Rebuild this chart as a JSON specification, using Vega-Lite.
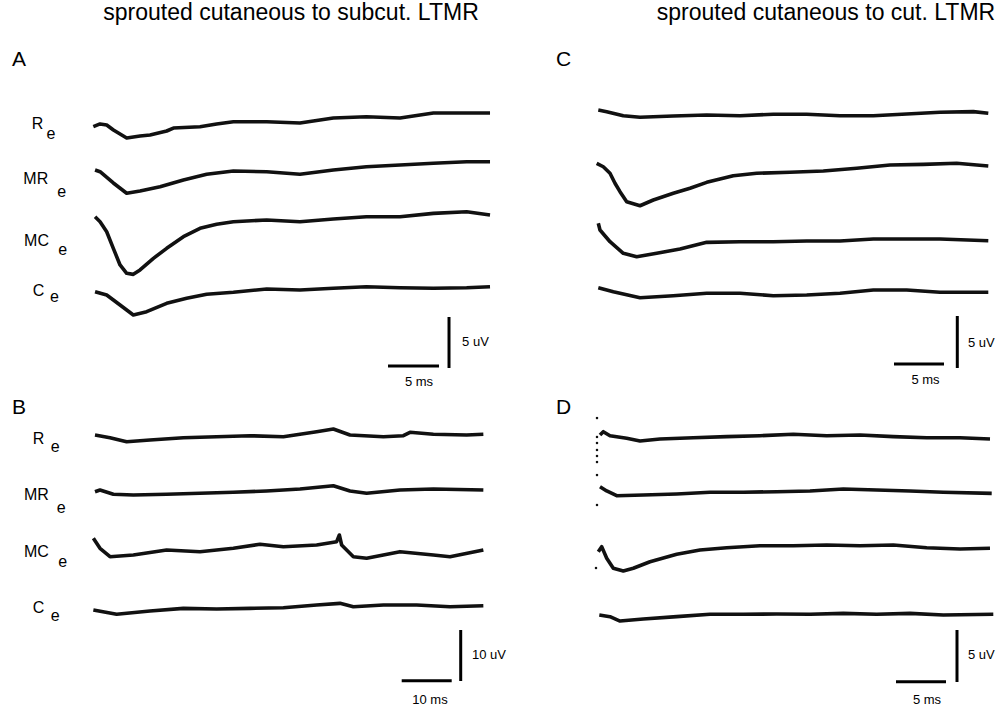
{
"$schema":"https://vega.github.io/schema/vega-lite/v6.json",
"background":"white",
"padding":0,
"spacing":0,
"config":{"view":{"stroke":null},"axis":{"disable":true},"font":"Liberation Sans","line":{"strokeWidth":3.6,"color":"#111","strokeJoin":"round"}},
"datasets":{"traces":[
{"panel":"A","trace":"R","t":0.03,"v":-0.07},{"panel":"A","trace":"R","t":0.69,"v":0.2},{"panel":"A","trace":"R","t":1.34,"v":0.1},{"panel":"A","trace":"R","t":2.0,"v":-0.39},{"panel":"A","trace":"R","t":3.3,"v":-1.18},{"panel":"A","trace":"R","t":4.61,"v":-0.98},{"panel":"A","trace":"R","t":5.59,"v":-0.88},{"panel":"A","trace":"R","t":7.22,"v":-0.49},{"panel":"A","trace":"R","t":7.88,"v":-0.2},{"panel":"A","trace":"R","t":10.49,"v":-0.07},{"panel":"A","trace":"R","t":12.12,"v":0.2},{"panel":"A","trace":"R","t":13.76,"v":0.42},{"panel":"A","trace":"R","t":17.03,"v":0.42},{"panel":"A","trace":"R","t":20.29,"v":0.29},{"panel":"A","trace":"R","t":23.56,"v":0.78},{"panel":"A","trace":"R","t":26.8,"v":0.91},{"panel":"A","trace":"R","t":30.1,"v":0.78},{"panel":"A","trace":"R","t":33.37,"v":1.27},{"panel":"A","trace":"R","t":36.63,"v":1.27},{"panel":"A","trace":"R","t":38.92,"v":1.27},
{"panel":"A","trace":"MR","t":0.2,"v":0},{"panel":"A","trace":"MR","t":0.69,"v":-0.17},{"panel":"A","trace":"MR","t":1.99,"v":-1.27},{"panel":"A","trace":"MR","t":3.3,"v":-2.28},{"panel":"A","trace":"MR","t":4.61,"v":-2.06},{"panel":"A","trace":"MR","t":6.57,"v":-1.64},{"panel":"A","trace":"MR","t":8.86,"v":-0.98},{"panel":"A","trace":"MR","t":11.14,"v":-0.42},{"panel":"A","trace":"MR","t":13.76,"v":-0.1},{"panel":"A","trace":"MR","t":17.03,"v":-0.17},{"panel":"A","trace":"MR","t":20.29,"v":-0.42},{"panel":"A","trace":"MR","t":23.56,"v":0},{"panel":"A","trace":"MR","t":26.8,"v":0.32},{"panel":"A","trace":"MR","t":30.1,"v":0.49},{"panel":"A","trace":"MR","t":33.37,"v":0.66},{"panel":"A","trace":"MR","t":36.63,"v":0.81},{"panel":"A","trace":"MR","t":38.92,"v":0.81},
{"panel":"A","trace":"MC","t":0.2,"v":-0.07},{"panel":"A","trace":"MC","t":0.69,"v":-0.56},{"panel":"A","trace":"MC","t":1.34,"v":-1.54},{"panel":"A","trace":"MC","t":1.99,"v":-3.17},{"panel":"A","trace":"MC","t":2.65,"v":-4.8},{"panel":"A","trace":"MC","t":3.3,"v":-5.62},{"panel":"A","trace":"MC","t":3.95,"v":-5.72},{"panel":"A","trace":"MC","t":4.61,"v":-5.29},{"panel":"A","trace":"MC","t":5.92,"v":-4.15},{"panel":"A","trace":"MC","t":7.22,"v":-3.17},{"panel":"A","trace":"MC","t":8.86,"v":-2.03},{"panel":"A","trace":"MC","t":10.49,"v":-1.21},{"panel":"A","trace":"MC","t":12.12,"v":-0.81},{"panel":"A","trace":"MC","t":13.76,"v":-0.56},{"panel":"A","trace":"MC","t":17.03,"v":-0.39},{"panel":"A","trace":"MC","t":20.29,"v":-0.56},{"panel":"A","trace":"MC","t":23.56,"v":-0.29},{"panel":"A","trace":"MC","t":26.8,"v":-0.07},{"panel":"A","trace":"MC","t":30.1,"v":-0.07},{"panel":"A","trace":"MC","t":33.37,"v":0.26},{"panel":"A","trace":"MC","t":36.63,"v":0.42},{"panel":"A","trace":"MC","t":38.92,"v":0.1},
{"panel":"A","trace":"C","t":0.2,"v":-0.07},{"panel":"A","trace":"C","t":1.34,"v":-0.39},{"panel":"A","trace":"C","t":2.65,"v":-1.37},{"panel":"A","trace":"C","t":3.95,"v":-2.35},{"panel":"A","trace":"C","t":5.26,"v":-2.03},{"panel":"A","trace":"C","t":7.22,"v":-1.21},{"panel":"A","trace":"C","t":9.18,"v":-0.72},{"panel":"A","trace":"C","t":11.14,"v":-0.32},{"panel":"A","trace":"C","t":13.76,"v":-0.13},{"panel":"A","trace":"C","t":17.03,"v":0.2},{"panel":"A","trace":"C","t":20.29,"v":0.1},{"panel":"A","trace":"C","t":23.56,"v":0.26},{"panel":"A","trace":"C","t":26.8,"v":0.42},{"panel":"A","trace":"C","t":30.1,"v":0.32},{"panel":"A","trace":"C","t":33.37,"v":0.26},{"panel":"A","trace":"C","t":36.63,"v":0.32},{"panel":"A","trace":"C","t":38.92,"v":0.42},
{"panel":"C","trace":"R","t":0.03,"v":0},{"panel":"C","trace":"R","t":0.87,"v":-0.16},{"panel":"C","trace":"R","t":2.53,"v":-0.55},{"panel":"C","trace":"R","t":4.2,"v":-0.7},{"panel":"C","trace":"R","t":7.53,"v":-0.58},{"panel":"C","trace":"R","t":10.87,"v":-0.48},{"panel":"C","trace":"R","t":14.2,"v":-0.55},{"panel":"C","trace":"R","t":17.53,"v":-0.41},{"panel":"C","trace":"R","t":20.87,"v":-0.41},{"panel":"C","trace":"R","t":24.2,"v":-0.55},{"panel":"C","trace":"R","t":27.53,"v":-0.55},{"panel":"C","trace":"R","t":30.87,"v":-0.38},{"panel":"C","trace":"R","t":34.2,"v":-0.22},{"panel":"C","trace":"R","t":37.53,"v":-0.16},{"panel":"C","trace":"R","t":39.03,"v":-0.32},
{"panel":"C","trace":"MR","t":-0.13,"v":-0.03},{"panel":"C","trace":"MR","t":0.53,"v":-0.36},{"panel":"C","trace":"MR","t":1.2,"v":-0.99},{"panel":"C","trace":"MR","t":1.7,"v":-1.95},{"panel":"C","trace":"MR","t":2.2,"v":-2.76},{"panel":"C","trace":"MR","t":2.87,"v":-3.72},{"panel":"C","trace":"MR","t":4.2,"v":-4.11},{"panel":"C","trace":"MR","t":5.53,"v":-3.56},{"panel":"C","trace":"MR","t":7.53,"v":-2.91},{"panel":"C","trace":"MR","t":9.2,"v":-2.43},{"panel":"C","trace":"MR","t":10.87,"v":-1.86},{"panel":"C","trace":"MR","t":13.53,"v":-1.22},{"panel":"C","trace":"MR","t":15.87,"v":-0.99},{"panel":"C","trace":"MR","t":19.2,"v":-0.89},{"panel":"C","trace":"MR","t":22.53,"v":-0.77},{"panel":"C","trace":"MR","t":25.87,"v":-0.51},{"panel":"C","trace":"MR","t":29.2,"v":-0.19},{"panel":"C","trace":"MR","t":32.53,"v":-0.13},{"panel":"C","trace":"MR","t":35.87,"v":-0.03},{"panel":"C","trace":"MR","t":39.03,"v":-0.29},
{"panel":"C","trace":"MC","t":0.03,"v":-0.03},{"panel":"C","trace":"MC","t":0.2,"v":-0.67},{"panel":"C","trace":"MC","t":1.2,"v":-1.8},{"panel":"C","trace":"MC","t":2.53,"v":-2.91},{"panel":"C","trace":"MC","t":3.87,"v":-3.24},{"panel":"C","trace":"MC","t":5.87,"v":-2.91},{"panel":"C","trace":"MC","t":8.2,"v":-2.5},{"panel":"C","trace":"MC","t":10.87,"v":-1.86},{"panel":"C","trace":"MC","t":14.2,"v":-1.8},{"panel":"C","trace":"MC","t":17.53,"v":-1.8},{"panel":"C","trace":"MC","t":20.87,"v":-1.73},{"panel":"C","trace":"MC","t":24.2,"v":-1.73},{"panel":"C","trace":"MC","t":27.53,"v":-1.54},{"panel":"C","trace":"MC","t":30.87,"v":-1.54},{"panel":"C","trace":"MC","t":34.2,"v":-1.54},{"panel":"C","trace":"MC","t":39.03,"v":-1.7},
{"panel":"C","trace":"C","t":0.03,"v":0.03},{"panel":"C","trace":"C","t":1.53,"v":-0.36},{"panel":"C","trace":"C","t":4.2,"v":-0.93},{"panel":"C","trace":"C","t":7.53,"v":-0.74},{"panel":"C","trace":"C","t":10.87,"v":-0.51},{"panel":"C","trace":"C","t":14.2,"v":-0.51},{"panel":"C","trace":"C","t":17.53,"v":-0.74},{"panel":"C","trace":"C","t":20.87,"v":-0.67},{"panel":"C","trace":"C","t":24.2,"v":-0.51},{"panel":"C","trace":"C","t":27.53,"v":-0.19},{"panel":"C","trace":"C","t":30.87,"v":-0.19},{"panel":"C","trace":"C","t":34.2,"v":-0.41},{"panel":"C","trace":"C","t":39.03,"v":-0.41},
{"panel":"B","trace":"R","t":0.4,"v":0},{"panel":"B","trace":"R","t":3.4,"v":-0.53},{"panel":"B","trace":"R","t":6.73,"v":-1.31},{"panel":"B","trace":"R","t":11.4,"v":-0.98},{"panel":"B","trace":"R","t":18.07,"v":-0.53},{"panel":"B","trace":"R","t":24.73,"v":-0.33},{"panel":"B","trace":"R","t":31.4,"v":-0.14},{"panel":"B","trace":"R","t":38.07,"v":-0.33},{"panel":"B","trace":"R","t":44.73,"v":0.65},{"panel":"B","trace":"R","t":48.07,"v":1.18},{"panel":"B","trace":"R","t":51.4,"v":0},{"panel":"B","trace":"R","t":58.07,"v":-0.33},{"panel":"B","trace":"R","t":62.07,"v":-0.14},{"panel":"B","trace":"R","t":63.4,"v":0.53},{"panel":"B","trace":"R","t":68.07,"v":0.14},{"panel":"B","trace":"R","t":74.73,"v":0},{"panel":"B","trace":"R","t":78.07,"v":0.14},
{"panel":"B","trace":"MR","t":0.4,"v":-0.14},{"panel":"B","trace":"MR","t":1.4,"v":0.2},{"panel":"B","trace":"MR","t":4.07,"v":-0.65},{"panel":"B","trace":"MR","t":8.07,"v":-0.78},{"panel":"B","trace":"MR","t":14.73,"v":-0.65},{"panel":"B","trace":"MR","t":21.4,"v":-0.45},{"panel":"B","trace":"MR","t":28.07,"v":-0.25},{"panel":"B","trace":"MR","t":34.73,"v":0},{"panel":"B","trace":"MR","t":41.4,"v":0.39},{"panel":"B","trace":"MR","t":48.07,"v":1.04},{"panel":"B","trace":"MR","t":51.4,"v":0},{"panel":"B","trace":"MR","t":54.73,"v":-0.45},{"panel":"B","trace":"MR","t":61.4,"v":0.2},{"panel":"B","trace":"MR","t":68.07,"v":0.39},{"panel":"B","trace":"MR","t":78.07,"v":0.2},
{"panel":"B","trace":"MC","t":0.07,"v":2.29},{"panel":"B","trace":"MC","t":1.4,"v":0.33},{"panel":"B","trace":"MC","t":3.4,"v":-1.31},{"panel":"B","trace":"MC","t":8.07,"v":-0.98},{"panel":"B","trace":"MC","t":14.73,"v":0},{"panel":"B","trace":"MC","t":21.4,"v":-0.33},{"panel":"B","trace":"MC","t":28.07,"v":0.33},{"panel":"B","trace":"MC","t":33.4,"v":1.12},{"panel":"B","trace":"MC","t":38.07,"v":0.65},{"panel":"B","trace":"MC","t":44.73,"v":0.98},{"panel":"B","trace":"MC","t":48.73,"v":1.63},{"panel":"B","trace":"MC","t":49.27,"v":2.94},{"panel":"B","trace":"MC","t":49.73,"v":0.98},{"panel":"B","trace":"MC","t":52.07,"v":-1.31},{"panel":"B","trace":"MC","t":54.73,"v":-1.63},{"panel":"B","trace":"MC","t":61.4,"v":-0.33},{"panel":"B","trace":"MC","t":68.07,"v":-0.98},{"panel":"B","trace":"MC","t":71.4,"v":-1.31},{"panel":"B","trace":"MC","t":78.07,"v":0},
{"panel":"B","trace":"C","t":0.07,"v":0},{"panel":"B","trace":"C","t":4.73,"v":-0.84},{"panel":"B","trace":"C","t":11.4,"v":-0.2},{"panel":"B","trace":"C","t":18.07,"v":0.33},{"panel":"B","trace":"C","t":24.73,"v":0.2},{"panel":"B","trace":"C","t":31.4,"v":0.33},{"panel":"B","trace":"C","t":38.07,"v":0.45},{"panel":"B","trace":"C","t":44.73,"v":0.98},{"panel":"B","trace":"C","t":49.4,"v":1.31},{"panel":"B","trace":"C","t":52.07,"v":0.65},{"panel":"B","trace":"C","t":58.07,"v":0.98},{"panel":"B","trace":"C","t":64.73,"v":0.98},{"panel":"B","trace":"C","t":71.4,"v":0.65},{"panel":"B","trace":"C","t":78.07,"v":0.84},
{"panel":"D","trace":"R","t":0.2,"v":0},{"panel":"D","trace":"R","t":0.53,"v":0.32},{"panel":"D","trace":"R","t":1.2,"v":-0.07},{"panel":"D","trace":"R","t":2.87,"v":-0.32},{"panel":"D","trace":"R","t":4.2,"v":-0.58},{"panel":"D","trace":"R","t":6.2,"v":-0.38},{"panel":"D","trace":"R","t":9.53,"v":-0.26},{"panel":"D","trace":"R","t":12.87,"v":-0.16},{"panel":"D","trace":"R","t":16.2,"v":-0.07},{"panel":"D","trace":"R","t":19.53,"v":0.07},{"panel":"D","trace":"R","t":22.87,"v":-0.07},{"panel":"D","trace":"R","t":26.2,"v":0},{"panel":"D","trace":"R","t":29.53,"v":-0.16},{"panel":"D","trace":"R","t":32.87,"v":-0.26},{"panel":"D","trace":"R","t":36.2,"v":-0.26},{"panel":"D","trace":"R","t":39.2,"v":-0.38},
{"panel":"D","trace":"MR","t":0.2,"v":0.03},{"panel":"D","trace":"MR","t":0.87,"v":-0.38},{"panel":"D","trace":"MR","t":1.87,"v":-0.84},{"panel":"D","trace":"MR","t":4.53,"v":-0.77},{"panel":"D","trace":"MR","t":7.87,"v":-0.67},{"panel":"D","trace":"MR","t":11.2,"v":-0.51},{"panel":"D","trace":"MR","t":14.53,"v":-0.51},{"panel":"D","trace":"MR","t":17.87,"v":-0.45},{"panel":"D","trace":"MR","t":21.2,"v":-0.38},{"panel":"D","trace":"MR","t":24.53,"v":-0.19},{"panel":"D","trace":"MR","t":27.87,"v":-0.29},{"panel":"D","trace":"MR","t":31.2,"v":-0.38},{"panel":"D","trace":"MR","t":34.53,"v":-0.51},{"panel":"D","trace":"MR","t":39.37,"v":-0.61},
{"panel":"D","trace":"MC","t":0.03,"v":-0.36},{"panel":"D","trace":"MC","t":0.37,"v":0.13},{"panel":"D","trace":"MC","t":0.87,"v":-0.99},{"panel":"D","trace":"MC","t":1.53,"v":-1.95},{"panel":"D","trace":"MC","t":2.53,"v":-2.21},{"panel":"D","trace":"MC","t":3.53,"v":-1.95},{"panel":"D","trace":"MC","t":5.2,"v":-1.32},{"panel":"D","trace":"MC","t":7.87,"v":-0.61},{"panel":"D","trace":"MC","t":10.2,"v":-0.19},{"panel":"D","trace":"MC","t":12.87,"v":0.03},{"panel":"D","trace":"MC","t":16.2,"v":0.22},{"panel":"D","trace":"MC","t":19.53,"v":0.22},{"panel":"D","trace":"MC","t":22.87,"v":0.29},{"panel":"D","trace":"MC","t":26.2,"v":0.22},{"panel":"D","trace":"MC","t":29.53,"v":0.29},{"panel":"D","trace":"MC","t":32.87,"v":0.03},{"panel":"D","trace":"MC","t":36.2,"v":-0.1},{"panel":"D","trace":"MC","t":39.2,"v":-0.03},
{"panel":"D","trace":"C","t":0.13,"v":0},{"panel":"D","trace":"C","t":1.2,"v":-0.16},{"panel":"D","trace":"C","t":2.2,"v":-0.58},{"panel":"D","trace":"C","t":4.53,"v":-0.38},{"panel":"D","trace":"C","t":7.87,"v":-0.16},{"panel":"D","trace":"C","t":11.2,"v":0.07},{"panel":"D","trace":"C","t":14.53,"v":0.07},{"panel":"D","trace":"C","t":17.87,"v":0.1},{"panel":"D","trace":"C","t":21.2,"v":0.07},{"panel":"D","trace":"C","t":24.53,"v":0.16},{"panel":"D","trace":"C","t":27.87,"v":0.07},{"panel":"D","trace":"C","t":31.2,"v":0.16},{"panel":"D","trace":"C","t":34.53,"v":0},{"panel":"D","trace":"C","t":39.53,"v":0.07}
],
"artifact":[
{"panel":"D","t":-0.1,"v":1.63},{"panel":"D","t":-0.1,"v":-0.19},{"panel":"D","t":-0.1,"v":-0.77},{"panel":"D","t":-0.1,"v":-1.44},{"panel":"D","t":-0.1,"v":-2.02},{"panel":"D","t":-0.1,"v":-2.6},{"panel":"D","t":-0.1,"v":-3.85},{"panel":"D","t":-0.1,"v":-6.73},{"panel":"D","t":-0.2,"v":-12.79}
]},
"vconcat":[
{"hconcat":[
{"width":530,"height":395,"resolve":{"scale":{"y":"independent"}},"layer":[
 {"layer":[
  {"data":{"name":"traces"},"transform":[{"filter":"datum.panel==='A'&&datum.trace==='R'"}],"mark":{"type":"line"},"encoding":{"x":{"field":"t","type":"quantitative","scale":{"domain":[-9.12,42.84],"nice":false,"zero":false},"axis":null},"y":{"field":"v","type":"quantitative","scale":{"domain":[-26.37,12.35],"nice":false,"zero":false},"axis":null}}},
  {"data":{"values":[{}]},"mark":{"type":"text","text":"sprouted cutaneous to subcut. LTMR","fontSize":23,"align":"center","baseline":"alphabetic","color":"black"},"encoding":{"x":{"datum":19.41,"type":"quantitative"},"y":{"datum":10.39,"type":"quantitative"}}},
  {"data":{"values":[{}]},"mark":{"type":"text","text":"A","fontSize":21,"align":"left","baseline":"middle","color":"black"},"encoding":{"x":{"datum":-7.94,"type":"quantitative"},"y":{"datum":6.47,"type":"quantitative"}}},
  {"data":{"values":[{}]},"mark":{"type":"text","text":"R","fontSize":16,"align":"left","baseline":"middle","color":"black"},"encoding":{"x":{"datum":-6.01,"type":"quantitative"},"y":{"datum":0.2,"type":"quantitative"}}},
  {"data":{"values":[{}]},"mark":{"type":"text","text":"e","fontSize":16,"align":"left","baseline":"middle","color":"black"},"encoding":{"x":{"datum":-4.55,"type":"quantitative"},"y":{"datum":-0.83,"type":"quantitative"}}}
 ]},
 {"layer":[
  {"data":{"name":"traces"},"transform":[{"filter":"datum.panel==='A'&&datum.trace==='MR'"}],"mark":{"type":"line"},"encoding":{"x":{"field":"t","type":"quantitative","scale":{"domain":[-9.12,42.84],"nice":false,"zero":false},"axis":null},"y":{"field":"v","type":"quantitative","scale":{"domain":[-22.06,16.67],"nice":false,"zero":false},"axis":null}}},
  {"data":{"values":[{}]},"mark":{"type":"text","text":"MR","fontSize":16,"align":"left","baseline":"middle","color":"black"},"encoding":{"x":{"datum":-6.83,"type":"quantitative"},"y":{"datum":-0.93,"type":"quantitative"}}},
  {"data":{"values":[{}]},"mark":{"type":"text","text":"e","fontSize":16,"align":"left","baseline":"middle","color":"black"},"encoding":{"x":{"datum":-3.5,"type":"quantitative"},"y":{"datum":-2.11,"type":"quantitative"}}}
 ]},
 {"layer":[
  {"data":{"name":"traces"},"transform":[{"filter":"datum.panel==='A'&&datum.trace==='MC'"}],"mark":{"type":"line"},"encoding":{"x":{"field":"t","type":"quantitative","scale":{"domain":[-9.12,42.84],"nice":false,"zero":false},"axis":null},"y":{"field":"v","type":"quantitative","scale":{"domain":[-17.55,21.18],"nice":false,"zero":false},"axis":null}}},
  {"data":{"values":[{}]},"mark":{"type":"text","text":"MC","fontSize":16,"align":"left","baseline":"middle","color":"black"},"encoding":{"x":{"datum":-6.76,"type":"quantitative"},"y":{"datum":-2.45,"type":"quantitative"}}},
  {"data":{"values":[{}]},"mark":{"type":"text","text":"e","fontSize":16,"align":"left","baseline":"middle","color":"black"},"encoding":{"x":{"datum":-3.4,"type":"quantitative"},"y":{"datum":-3.33,"type":"quantitative"}}}
 ]},
 {"layer":[
  {"data":{"name":"traces"},"transform":[{"filter":"datum.panel==='A'&&datum.trace==='C'"}],"mark":{"type":"line"},"encoding":{"x":{"field":"t","type":"quantitative","scale":{"domain":[-9.12,42.84],"nice":false,"zero":false},"axis":null},"y":{"field":"v","type":"quantitative","scale":{"domain":[-10.2,28.53],"nice":false,"zero":false},"axis":null}}},
  {"data":{"values":[{}]},"mark":{"type":"text","text":"C","fontSize":16,"align":"left","baseline":"middle","color":"black"},"encoding":{"x":{"datum":-5.91,"type":"quantitative"},"y":{"datum":0,"type":"quantitative"}}},
  {"data":{"values":[{}]},"mark":{"type":"text","text":"e","fontSize":16,"align":"left","baseline":"middle","color":"black"},"encoding":{"x":{"datum":-4.22,"type":"quantitative"},"y":{"datum":-0.59,"type":"quantitative"}}},
  {"data":{"values":[{}]},"mark":{"type":"rule","color":"black","strokeWidth":3},"encoding":{"x":{"datum":34.9,"type":"quantitative"},"y":{"datum":-2.55,"type":"quantitative"},"y2":{"datum":-7.55}}},
  {"data":{"values":[{}]},"mark":{"type":"rule","color":"black","strokeWidth":3},"encoding":{"x":{"datum":28.92,"type":"quantitative"},"x2":{"datum":33.92},"y":{"datum":-7.35,"type":"quantitative"}}},
  {"data":{"values":[{}]},"mark":{"type":"text","text":"5 uV","fontSize":13,"align":"left","baseline":"middle","color":"black"},"encoding":{"x":{"datum":36.18,"type":"quantitative"},"y":{"datum":-5.0,"type":"quantitative"}}},
  {"data":{"values":[{}]},"mark":{"type":"text","text":"5 ms","fontSize":13,"align":"center","baseline":"middle","color":"black"},"encoding":{"x":{"datum":31.96,"type":"quantitative"},"y":{"datum":-8.92,"type":"quantitative"}}}
 ]}
]},
{"width":474,"height":395,"resolve":{"scale":{"y":"independent"}},"layer":[
 {"layer":[
  {"data":{"name":"traces"},"transform":[{"filter":"datum.panel==='C'&&datum.trace==='R'"}],"mark":{"type":"line"},"encoding":{"x":{"field":"t","type":"quantitative","scale":{"domain":[-6.8,40.6],"nice":false,"zero":false},"axis":null},"y":{"field":"v","type":"quantitative","scale":{"domain":[-27.404,10.577],"nice":false,"zero":false},"axis":null}}},
  {"data":{"values":[{}]},"mark":{"type":"text","text":"sprouted cutaneous to cut. LTMR","fontSize":23,"align":"center","baseline":"alphabetic","color":"black"},"encoding":{"x":{"datum":22.8,"type":"quantitative"},"y":{"datum":8.65,"type":"quantitative"}}},
  {"data":{"values":[{}]},"mark":{"type":"text","text":"C","fontSize":21,"align":"left","baseline":"middle","color":"black"},"encoding":{"x":{"datum":-4.2,"type":"quantitative"},"y":{"datum":4.81,"type":"quantitative"}}}
 ]},
 {"layer":[
  {"data":{"name":"traces"},"transform":[{"filter":"datum.panel==='C'&&datum.trace==='MR'"}],"mark":{"type":"line"},"encoding":{"x":{"field":"t","type":"quantitative","scale":{"domain":[-6.8,40.6],"nice":false,"zero":false},"axis":null},"y":{"field":"v","type":"quantitative","scale":{"domain":[-22.308,15.673],"nice":false,"zero":false},"axis":null}}}
 ]},
 {"layer":[
  {"data":{"name":"traces"},"transform":[{"filter":"datum.panel==='C'&&datum.trace==='MC'"}],"mark":{"type":"line"},"encoding":{"x":{"field":"t","type":"quantitative","scale":{"domain":[-6.8,40.6],"nice":false,"zero":false},"axis":null},"y":{"field":"v","type":"quantitative","scale":{"domain":[-16.538,21.442],"nice":false,"zero":false},"axis":null}}}
 ]},
 {"layer":[
  {"data":{"name":"traces"},"transform":[{"filter":"datum.panel==='C'&&datum.trace==='C'"}],"mark":{"type":"line"},"encoding":{"x":{"field":"t","type":"quantitative","scale":{"domain":[-6.8,40.6],"nice":false,"zero":false},"axis":null},"y":{"field":"v","type":"quantitative","scale":{"domain":[-10.288,27.692],"nice":false,"zero":false},"axis":null}}},
  {"data":{"values":[{}]},"mark":{"type":"rule","color":"black","strokeWidth":3},"encoding":{"x":{"datum":35.93,"type":"quantitative"},"y":{"datum":-2.69,"type":"quantitative"},"y2":{"datum":-7.69}}},
  {"data":{"values":[{}]},"mark":{"type":"rule","color":"black","strokeWidth":3},"encoding":{"x":{"datum":29.6,"type":"quantitative"},"x2":{"datum":34.6},"y":{"datum":-7.31,"type":"quantitative"}}},
  {"data":{"values":[{}]},"mark":{"type":"text","text":"5 uV","fontSize":13,"align":"left","baseline":"middle","color":"black"},"encoding":{"x":{"datum":37.0,"type":"quantitative"},"y":{"datum":-5.29,"type":"quantitative"}}},
  {"data":{"values":[{}]},"mark":{"type":"text","text":"5 ms","fontSize":13,"align":"center","baseline":"middle","color":"black"},"encoding":{"x":{"datum":32.75,"type":"quantitative"},"y":{"datum":-8.85,"type":"quantitative"}}}
 ]}
]}
],"spacing":0,"bounds":"flush"},
{"hconcat":[
{"width":530,"height":311,"resolve":{"scale":{"y":"independent"}},"layer":[
 {"layer":[
  {"data":{"name":"traces"},"transform":[{"filter":"datum.panel==='B'&&datum.trace==='R'"}],"mark":{"type":"line"},"encoding":{"x":{"field":"t","type":"quantitative","scale":{"domain":[-18.6,87.4],"nice":false,"zero":false},"axis":null},"y":{"field":"v","type":"quantitative","scale":{"domain":[-53.14,7.843],"nice":false,"zero":false},"axis":null}}},
  {"data":{"values":[{}]},"mark":{"type":"text","text":"B","fontSize":21,"align":"left","baseline":"middle","color":"black"},"encoding":{"x":{"datum":-16.2,"type":"quantitative"},"y":{"datum":5.29,"type":"quantitative"}}},
  {"data":{"values":[{}]},"mark":{"type":"text","text":"R","fontSize":16,"align":"left","baseline":"middle","color":"black"},"encoding":{"x":{"datum":-12.06,"type":"quantitative"},"y":{"datum":-0.78,"type":"quantitative"}}},
  {"data":{"values":[{}]},"mark":{"type":"text","text":"e","fontSize":16,"align":"left","baseline":"middle","color":"black"},"encoding":{"x":{"datum":-8.46,"type":"quantitative"},"y":{"datum":-2.45,"type":"quantitative"}}}
 ]},
 {"layer":[
  {"data":{"name":"traces"},"transform":[{"filter":"datum.panel==='B'&&datum.trace==='MR'"}],"mark":{"type":"line"},"encoding":{"x":{"field":"t","type":"quantitative","scale":{"domain":[-18.6,87.4],"nice":false,"zero":false},"axis":null},"y":{"field":"v","type":"quantitative","scale":{"domain":[-42.16,18.82],"nice":false,"zero":false},"axis":null}}},
  {"data":{"values":[{}]},"mark":{"type":"text","text":"MR","fontSize":16,"align":"left","baseline":"middle","color":"black"},"encoding":{"x":{"datum":-13.8,"type":"quantitative"},"y":{"datum":-0.78,"type":"quantitative"}}},
  {"data":{"values":[{}]},"mark":{"type":"text","text":"e","fontSize":16,"align":"left","baseline":"middle","color":"black"},"encoding":{"x":{"datum":-7.26,"type":"quantitative"},"y":{"datum":-3.33,"type":"quantitative"}}}
 ]},
 {"layer":[
  {"data":{"name":"traces"},"transform":[{"filter":"datum.panel==='B'&&datum.trace==='MC'"}],"mark":{"type":"line"},"encoding":{"x":{"field":"t","type":"quantitative","scale":{"domain":[-18.6,87.4],"nice":false,"zero":false},"axis":null},"y":{"field":"v","type":"quantitative","scale":{"domain":[-30.59,30.39],"nice":false,"zero":false},"axis":null}}},
  {"data":{"values":[{}]},"mark":{"type":"text","text":"MC","fontSize":16,"align":"left","baseline":"middle","color":"black"},"encoding":{"x":{"datum":-13.8,"type":"quantitative"},"y":{"datum":-0.49,"type":"quantitative"}}},
  {"data":{"values":[{}]},"mark":{"type":"text","text":"e","fontSize":16,"align":"left","baseline":"middle","color":"black"},"encoding":{"x":{"datum":-6.94,"type":"quantitative"},"y":{"datum":-2.29,"type":"quantitative"}}}
 ]},
 {"layer":[
  {"data":{"name":"traces"},"transform":[{"filter":"datum.panel==='B'&&datum.trace==='C'"}],"mark":{"type":"line"},"encoding":{"x":{"field":"t","type":"quantitative","scale":{"domain":[-18.6,87.4],"nice":false,"zero":false},"axis":null},"y":{"field":"v","type":"quantitative","scale":{"domain":[-18.82,42.16],"nice":false,"zero":false},"axis":null}}},
  {"data":{"values":[{}]},"mark":{"type":"text","text":"C","fontSize":16,"align":"left","baseline":"middle","color":"black"},"encoding":{"x":{"datum":-12.06,"type":"quantitative"},"y":{"datum":0.39,"type":"quantitative"}}},
  {"data":{"values":[{}]},"mark":{"type":"text","text":"e","fontSize":16,"align":"left","baseline":"middle","color":"black"},"encoding":{"x":{"datum":-8.46,"type":"quantitative"},"y":{"datum":-1.18,"type":"quantitative"}}},
  {"data":{"values":[{}]},"mark":{"type":"rule","color":"black","strokeWidth":3},"encoding":{"x":{"datum":73.54,"type":"quantitative"},"y":{"datum":-3.92,"type":"quantitative"},"y2":{"datum":-13.92}}},
  {"data":{"values":[{}]},"mark":{"type":"rule","color":"black","strokeWidth":3},"encoding":{"x":{"datum":61.74,"type":"quantitative"},"x2":{"datum":71.74},"y":{"datum":-13.86,"type":"quantitative"}}},
  {"data":{"values":[{}]},"mark":{"type":"text","text":"10 uV","fontSize":13,"align":"left","baseline":"middle","color":"black"},"encoding":{"x":{"datum":75.8,"type":"quantitative"},"y":{"datum":-8.82,"type":"quantitative"}}},
  {"data":{"values":[{}]},"mark":{"type":"text","text":"10 ms","fontSize":13,"align":"center","baseline":"middle","color":"black"},"encoding":{"x":{"datum":67.4,"type":"quantitative"},"y":{"datum":-17.65,"type":"quantitative"}}}
 ]}
]},
{"width":474,"height":311,"resolve":{"scale":{"y":"independent"}},"layer":[
 {"layer":[
  {"data":{"name":"traces"},"transform":[{"filter":"datum.panel==='D'&&datum.trace==='R'"}],"mark":{"type":"line"},"encoding":{"x":{"field":"t","type":"quantitative","scale":{"domain":[-6.8,40.6],"nice":false,"zero":false},"axis":null},"y":{"field":"v","type":"quantitative","scale":{"domain":[-26.058,3.846],"nice":false,"zero":false},"axis":null}}},
  {"data":{"name":"artifact"},"mark":{"type":"square","color":"#111","size":5,"opacity":1},"encoding":{"x":{"field":"t","type":"quantitative"},"y":{"field":"v","type":"quantitative"}}},
  {"data":{"values":[{}]},"mark":{"type":"text","text":"D","fontSize":21,"align":"left","baseline":"middle","color":"black"},"encoding":{"x":{"datum":-4.2,"type":"quantitative"},"y":{"datum":2.6,"type":"quantitative"}}}
 ]},
 {"layer":[
  {"data":{"name":"traces"},"transform":[{"filter":"datum.panel==='D'&&datum.trace==='MR'"}],"mark":{"type":"line"},"encoding":{"x":{"field":"t","type":"quantitative","scale":{"domain":[-6.8,40.6],"nice":false,"zero":false},"axis":null},"y":{"field":"v","type":"quantitative","scale":{"domain":[-21.058,8.846],"nice":false,"zero":false},"axis":null}}}
 ]},
 {"layer":[
  {"data":{"name":"traces"},"transform":[{"filter":"datum.panel==='D'&&datum.trace==='MC'"}],"mark":{"type":"line"},"encoding":{"x":{"field":"t","type":"quantitative","scale":{"domain":[-6.8,40.6],"nice":false,"zero":false},"axis":null},"y":{"field":"v","type":"quantitative","scale":{"domain":[-15.192,14.712],"nice":false,"zero":false},"axis":null}}}
 ]},
 {"layer":[
  {"data":{"name":"traces"},"transform":[{"filter":"datum.panel==='D'&&datum.trace==='C'"}],"mark":{"type":"line"},"encoding":{"x":{"field":"t","type":"quantitative","scale":{"domain":[-6.8,40.6],"nice":false,"zero":false},"axis":null},"y":{"field":"v","type":"quantitative","scale":{"domain":[-8.75,21.154],"nice":false,"zero":false},"axis":null}}},
  {"data":{"values":[{}]},"mark":{"type":"rule","color":"black","strokeWidth":3},"encoding":{"x":{"datum":35.9,"type":"quantitative"},"y":{"datum":-1.44,"type":"quantitative"},"y2":{"datum":-6.44}}},
  {"data":{"values":[{}]},"mark":{"type":"rule","color":"black","strokeWidth":3},"encoding":{"x":{"datum":29.8,"type":"quantitative"},"x2":{"datum":34.8},"y":{"datum":-6.41,"type":"quantitative"}}},
  {"data":{"values":[{}]},"mark":{"type":"text","text":"5 uV","fontSize":13,"align":"left","baseline":"middle","color":"black"},"encoding":{"x":{"datum":37.0,"type":"quantitative"},"y":{"datum":-3.85,"type":"quantitative"}}},
  {"data":{"values":[{}]},"mark":{"type":"text","text":"5 ms","fontSize":13,"align":"center","baseline":"middle","color":"black"},"encoding":{"x":{"datum":32.9,"type":"quantitative"},"y":{"datum":-8.17,"type":"quantitative"}}}
 ]}
]}
],"spacing":0,"bounds":"flush"}
]
}
